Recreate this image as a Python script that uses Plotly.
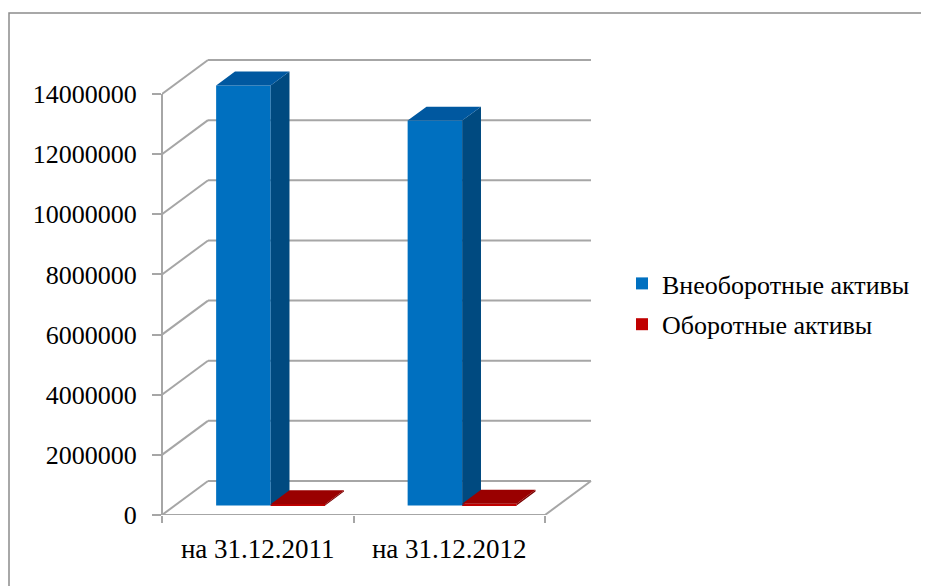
import plotly.graph_objects as go

# ---------------- data ----------------
categories = ["на 31.12.2011", "на 31.12.2012"]
series_names = ["Внеоборотные активы", "Оборотные активы"]
non_current_assets = [13970000, 12800000]
current_assets = [40000, 60000]
y_tick_values = [0, 2000000, 4000000, 6000000, 8000000, 10000000, 12000000, 14000000]

# ---------------- geometry / style ----------------
W, H = 929, 586
OFF = 8                         # page body margin offset
PAGE_LEFT, PAGE_FLOOR = 162, 515
M_L = PAGE_LEFT - OFF
M_B = H - (PAGE_FLOOR - OFF)
M_T = 32
M_R = 309
PLOT_W = W - M_L - M_R
PLOT_H = H - M_T - M_B
PX_PER_CAT = 191.5
PX_PER_VAL = 30.07 / 1e6
X0 = -0.5
N = len(categories)
X_RANGE = [X0, X0 + PLOT_W / PX_PER_CAT]
Y_RANGE = [0, PLOT_H / PX_PER_VAL]

DX = 46 / PX_PER_CAT          # depth vector (x, in category units)
DY = 34 / PX_PER_VAL          # depth vector (y, in value units)
F0 = 0.28                     # depth of bar front plane
BD = 0.41                     # bar depth
BW = 54.5 / PX_PER_CAT        # bar width
offsets = [-BW, 0.0]

front_colors = ["#0070C0", "#C00000"]
side_colors = ["#004A80", "#7A0000"]
top_colors = ["#0058A0", "#9A0000"]
GRID = "#A6A6A6"
FONT = "Liberation Serif"


def px_x(p):
    """page x pixel -> paper x"""
    return (p - OFF - M_L) / PLOT_W


def px_y(p):
    """page y pixel -> paper y"""
    return (H - M_B - (p - OFF)) / PLOT_H


fig = go.Figure()

series = [non_current_assets, current_assets]
xs = [i + F0 * DX for i in range(N)]

for s, vals in enumerate(series):
    fig.add_trace(go.Bar(
        x=xs, y=vals, base=F0 * DY, offset=offsets[s], width=BW,
        marker=dict(color=front_colors[s], line=dict(width=0)),
        name=series_names[s], legendgroup=str(s),
    ))

for s, vals in enumerate(series):
    sx, sy, tx, ty = [], [], [], []
    ddx, ddy = BD * DX, BD * DY
    for i, v in enumerate(vals):
        x0 = xs[i] + offsets[s]
        x1 = x0 + BW
        y0 = F0 * DY
        y1 = y0 + v
        sx += [x1, x1 + ddx, x1 + ddx, x1, x1, None]
        sy += [y0, y0 + ddy, y1 + ddy, y1, y0, None]
        tx += [x0, x0 + ddx, x1 + ddx, x1, x0, None]
        ty += [y1, y1 + ddy, y1 + ddy, y1, y1, None]
    fig.add_trace(go.Scatter(x=sx, y=sy, mode="none", fill="toself",
                             fillcolor=side_colors[s], showlegend=False, hoverinfo="skip"))
    fig.add_trace(go.Scatter(x=tx, y=ty, mode="none", fill="toself",
                             fillcolor=top_colors[s], showlegend=False, hoverinfo="skip"))

shapes = []
ln = dict(color=GRID, width=2)
for t in y_tick_values:
    shapes.append(dict(type="line", xref="x", yref="y", x0=X0 + DX, y0=t + DY,
                       x1=X0 + N + DX, y1=t + DY, line=ln, layer="below"))
    shapes.append(dict(type="line", xref="x", yref="y", x0=X0, y0=t,
                       x1=X0 + DX, y1=t + DY, line=ln, layer="below"))
shapes.append(dict(type="line", xref="x", yref="y", x0=X0, y0=0, x1=X0 + N, y1=0,
                   line=ln, layer="below"))
shapes.append(dict(type="line", xref="x", yref="y", x0=X0 + N, y0=0, x1=X0 + N + DX, y1=DY,
                   line=ln, layer="below"))
shapes.append(dict(type="line", xref="paper", yref="paper", x0=0, y0=0, x1=0,
                   y1=max(y_tick_values) / Y_RANGE[1], line=ln, layer="below"))
shapes.append(dict(type="rect", xref="paper", yref="paper",
                   x0=px_x(9), y0=px_y(700), x1=px_x(1100), y1=px_y(13),
                   line=dict(color="#8C8C8C", width=1.5), fillcolor="rgba(0,0,0,0)", layer="below"))

fig.update_layout(
    width=W, height=H,
    margin=dict(l=M_L, r=M_R, t=M_T, b=M_B, autoexpand=False),
    paper_bgcolor="white", plot_bgcolor="white",
    font=dict(family=FONT, size=26, color="black"),
    barmode="overlay",
    shapes=shapes,
    showlegend=True,
    legend=dict(x=px_x(622), y=px_y(304), xanchor="left", yanchor="middle",
                font=dict(family=FONT, size=26, color="black"),
                bgcolor="rgba(0,0,0,0)", tracegroupgap=4),
    xaxis=dict(range=X_RANGE, tickvals=list(range(N)), ticktext=categories,
               ticks="", showgrid=False, zeroline=False, showline=False,
               automargin=False, ticklabelstandoff=15, tickangle=0,
               tickfont=dict(family=FONT, size=27, color="black"),
               minor=dict(tickvals=[X0 + k for k in range(N + 1)], ticks="outside",
                          ticklen=7, tickwidth=1.5, tickcolor=GRID, showgrid=False)),
    yaxis=dict(range=Y_RANGE, tickvals=y_tick_values,
               ticktext=[str(v) for v in y_tick_values],
               ticks="outside", ticklen=9, tickwidth=1.5, tickcolor=GRID,
               tickfont=dict(family=FONT, size=26, color="black"),
               showgrid=False, zeroline=False, showline=False,
               automargin=False, ticklabelstandoff=10),
)

fig.write_html("out.html")
